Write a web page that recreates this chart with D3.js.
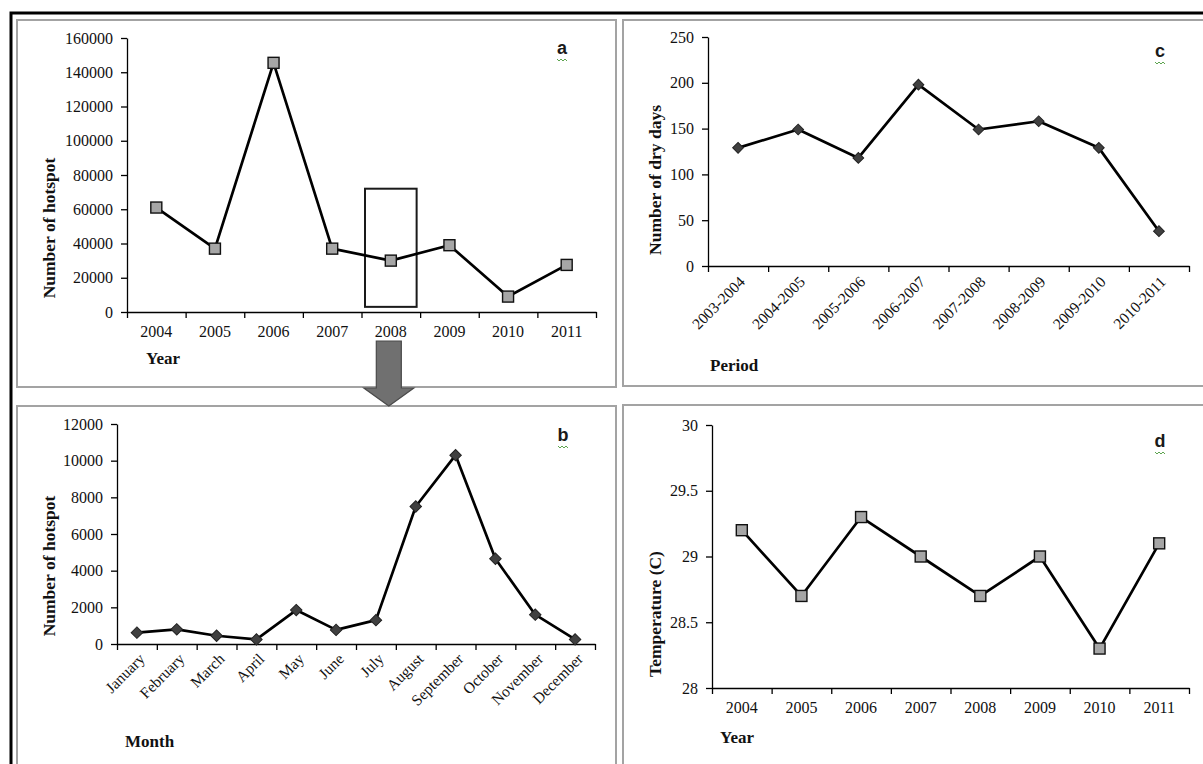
<!DOCTYPE html>
<html>
<head>
<meta charset="utf-8">
<script src="https://cdn.jsdelivr.net/npm/d3@7"></script>
<style>
  html, body { margin: 0; padding: 0; background: #fff; }
  svg { display: block; }
</style>
</head>
<body>
<svg id="chart" width="1203" height="764"></svg>
<script>
// ---------- DATA ----------
const yearsA = ["2004", "2005", "2006", "2007", "2008", "2009", "2010", "2011"];
const hotspotYear = [61000, 37000, 145500, 37000, 30000, 39000, 9000, 27500];
const yTicksA = [0, 20000, 40000, 60000, 80000, 100000, 120000, 140000, 160000];

const months = ["January", "February", "March", "April", "May", "June", "July",
  "August", "September", "October", "November", "December"];
const hotspotMonth = [620, 800, 450, 250, 1850, 770, 1300, 7500, 10300, 4650, 1600, 250];
const yTicksB = [0, 2000, 4000, 6000, 8000, 10000, 12000];

const periods = ["2003-2004", "2004-2005", "2005-2006", "2006-2007", "2007-2008",
  "2008-2009", "2009-2010", "2010-2011"];
const dryDays = [129, 149, 118, 198, 149, 158, 129, 38];
const yTicksC = [0, 50, 100, 150, 200, 250];

const yearsD = ["2004", "2005", "2006", "2007", "2008", "2009", "2010", "2011"];
const temperature = [29.2, 28.7, 29.3, 29.0, 28.7, 29.0, 28.3, 29.1];
const yTicksD = [28, 28.5, 29, 29.5, 30];

// highlighted year in panel a (box drawn in data units)
const highlightYear = "2008";
const highlightRange = [3000, 72000];

// ---------- DRAWING ----------
const svg = d3.select("#chart");
const SERIF = "'Liberation Serif', 'Times New Roman', serif";
const SANS = "'Liberation Sans', Arial, sans-serif";

// outer black frame
svg.append("rect").attr("x", 11).attr("y", 13).attr("width", 1300).attr("height", 900)
  .attr("fill", "none").attr("stroke", "#000").attr("stroke-width", 3);

// panel boxes
const boxes = [
  {x: 17, y: 20, w: 599, h: 367},
  {x: 623, y: 20, w: 600, h: 366},
  {x: 17, y: 406, w: 599, h: 380},
  {x: 623, y: 405, w: 600, h: 380}
];
boxes.forEach(b => {
  svg.append("rect").attr("x", b.x).attr("y", b.y).attr("width", b.w).attr("height", b.h)
    .attr("fill", "#fff").attr("stroke", "#a3a3a3").attr("stroke-width", 2);
});

function styleText(sel, size, weight) {
  sel.style("font-family", SERIF).style("font-size", size + "px")
    .style("font-weight", weight || "normal").style("fill", "#111");
}

function panel(o) {
  const g = svg.append("g");
  const x = d3.scaleBand().domain(o.cats).range([o.left, o.right]).paddingInner(0).paddingOuter(0);
  const xb = d3.scaleLinear().domain([0, o.cats.length]).range([o.left, o.right]);
  const y = d3.scaleLinear().domain(o.yDomain).range([o.bottom, o.top]);

  // y axis
  const ya = g.append("g").attr("transform", `translate(${o.left},0)`)
    .call(d3.axisLeft(y).tickValues(o.yTicks).tickSize(6).tickSizeOuter(0).tickPadding(8)
      .tickFormat(d => String(d)));
  ya.attr("font-family", null).attr("font-size", null);
  ya.select(".domain").attr("stroke", "#000").attr("stroke-width", 1.3);
  ya.selectAll(".tick line").attr("stroke", "#000").attr("stroke-width", 1.3);
  styleText(ya.selectAll("text"), 16);

  // x axis boundary ticks
  const xt = g.append("g").attr("transform", `translate(0,${o.bottom})`)
    .call(d3.axisBottom(xb).tickValues(d3.range(0, o.cats.length + 1)).tickSize(6).tickSizeOuter(0).tickFormat(""));
  xt.select(".domain").attr("stroke", "#000").attr("stroke-width", 1.3);
  xt.selectAll(".tick line").attr("stroke", "#000").attr("stroke-width", 1.3);

  // x labels
  const xl = g.append("g").attr("transform", `translate(0,${o.bottom})`)
    .call(d3.axisBottom(x).tickSize(0).tickPadding(14));
  xl.attr("font-family", null).attr("font-size", null);
  xl.select(".domain").remove();
  styleText(xl.selectAll("text"), o.rotate ? 15.5 : 16);
  if (o.rotate) {
    xl.selectAll("text")
      .attr("y", 0).attr("dy", "0.35em")
      .attr("text-anchor", "end")
      .attr("transform", `translate(${o.rotDx},${o.rotDy}) rotate(-45)`);
  }

  // extra graphics under line
  if (o.under) o.under(g, x, y);

  // line
  const line = d3.line().x((d, i) => x(o.cats[i]) + x.bandwidth() / 2).y(d => y(d));
  g.append("path").datum(o.values).attr("d", line)
    .attr("fill", "none").attr("stroke", "#000").attr("stroke-width", 2.7).attr("stroke-linejoin", "round");

  // markers
  if (o.marker === "square") {
    g.selectAll(".m").data(o.values).enter().append("rect")
      .attr("x", (d, i) => x(o.cats[i]) + x.bandwidth() / 2 - 5.5)
      .attr("y", d => y(d) - 5.5)
      .attr("width", 11).attr("height", 11)
      .attr("fill", "#a6a6a6").attr("stroke", "#111").attr("stroke-width", 1.4);
  } else {
    g.selectAll(".m").data(o.values).enter().append("path")
      .attr("d", d3.symbol(d3.symbolSquare, o.diamondArea || 60)())
      .attr("transform", (d, i) => `translate(${x(o.cats[i]) + x.bandwidth() / 2},${y(d)}) rotate(45)`)
      .attr("fill", "#404040").attr("stroke", "#222").attr("stroke-width", 1);
  }

  // axis titles
  const xtT = g.append("text").attr("x", o.xTitle[1]).attr("y", o.xTitle[2]).text(o.xTitle[0]);
  styleText(xtT, 17, "bold");
  const ytT = g.append("text").attr("transform", `translate(${o.yTitle[1]},${o.yTitle[2]}) rotate(-90)`)
    .attr("text-anchor", "middle").attr("dy", "0.35em").text(o.yTitle[0]);
  styleText(ytT, 17.5, "bold");

  // panel letter with squiggle
  g.append("text").attr("x", o.letter[1]).attr("y", o.letter[2]).attr("text-anchor", "middle")
    .style("font-family", SANS).style("font-weight", "bold").style("font-size", "18px").style("fill", "#1a1a1a")
    .text(o.letter[0]);
  const sx = o.letter[1] - 5, sy = o.letter[2] + 5;
  const pts = d3.range(0, 6).map(i => [sx + i * 2, sy + (i % 2 ? 2 : 0)]);
  g.append("path").attr("d", d3.line()(pts)).attr("fill", "none").attr("stroke", "#4a9a3a").attr("stroke-width", 0.9);

  return {x, y, g};
}

// Panel a
panel({
  cats: yearsA, values: hotspotYear, yDomain: [0, 160000], yTicks: yTicksA,
  left: 127, right: 596, top: 38, bottom: 312, marker: "square",
  xTitle: ["Year", 146, 364], yTitle: ["Number of hotspot", 49, 228], letter: ["a", 562, 54],
  under: (g, x, y) => {
    const bx = x(highlightYear);
    const w = x.bandwidth();
    g.append("rect").attr("x", bx + 3.5).attr("y", y(highlightRange[1]))
      .attr("width", w - 7).attr("height", y(highlightRange[0]) - y(highlightRange[1]))
      .attr("fill", "none").attr("stroke", "#1a1a1a").attr("stroke-width", 2);
    // arrow down to panel b
    const cx = bx + w / 2 - 2;
    const arrow = [[cx - 12.5, 341], [cx + 12.5, 341], [cx + 12.5, 388], [cx + 25, 388],
      [cx, 406], [cx - 25, 388], [cx - 12.5, 388]];
    svg.append("path").attr("d", d3.line()(arrow) + "Z")
      .attr("fill", "#707070").attr("stroke", "#4a4a4a").attr("stroke-width", 1.2);
  }
});

// Panel c
panel({
  cats: periods, values: dryDays, yDomain: [0, 250], yTicks: yTicksC,
  left: 708, right: 1189, top: 37, bottom: 266, marker: "diamond", diamondArea: 58, rotate: true, rotDx: 4, rotDy: 13,
  xTitle: ["Period", 710, 371], yTitle: ["Number of dry days", 655, 180], letter: ["c", 1160, 57]
});

// Panel b
panel({
  cats: months, values: hotspotMonth, yDomain: [0, 12000], yTicks: yTicksB,
  left: 117, right: 595, top: 424, bottom: 644, marker: "diamond", diamondArea: 66, rotate: true, rotDx: 5, rotDy: 12,
  xTitle: ["Month", 125, 747], yTitle: ["Number of hotspot", 49, 566], letter: ["b", 563, 441]
});

// Panel d
panel({
  cats: yearsD, values: temperature, yDomain: [28, 30], yTicks: yTicksD,
  left: 712, right: 1189, top: 425, bottom: 688, marker: "square",
  xTitle: ["Year", 720, 743], yTitle: ["Temperature (C)", 655, 614], letter: ["d", 1160, 447]
});
</script>
</body>
</html>
